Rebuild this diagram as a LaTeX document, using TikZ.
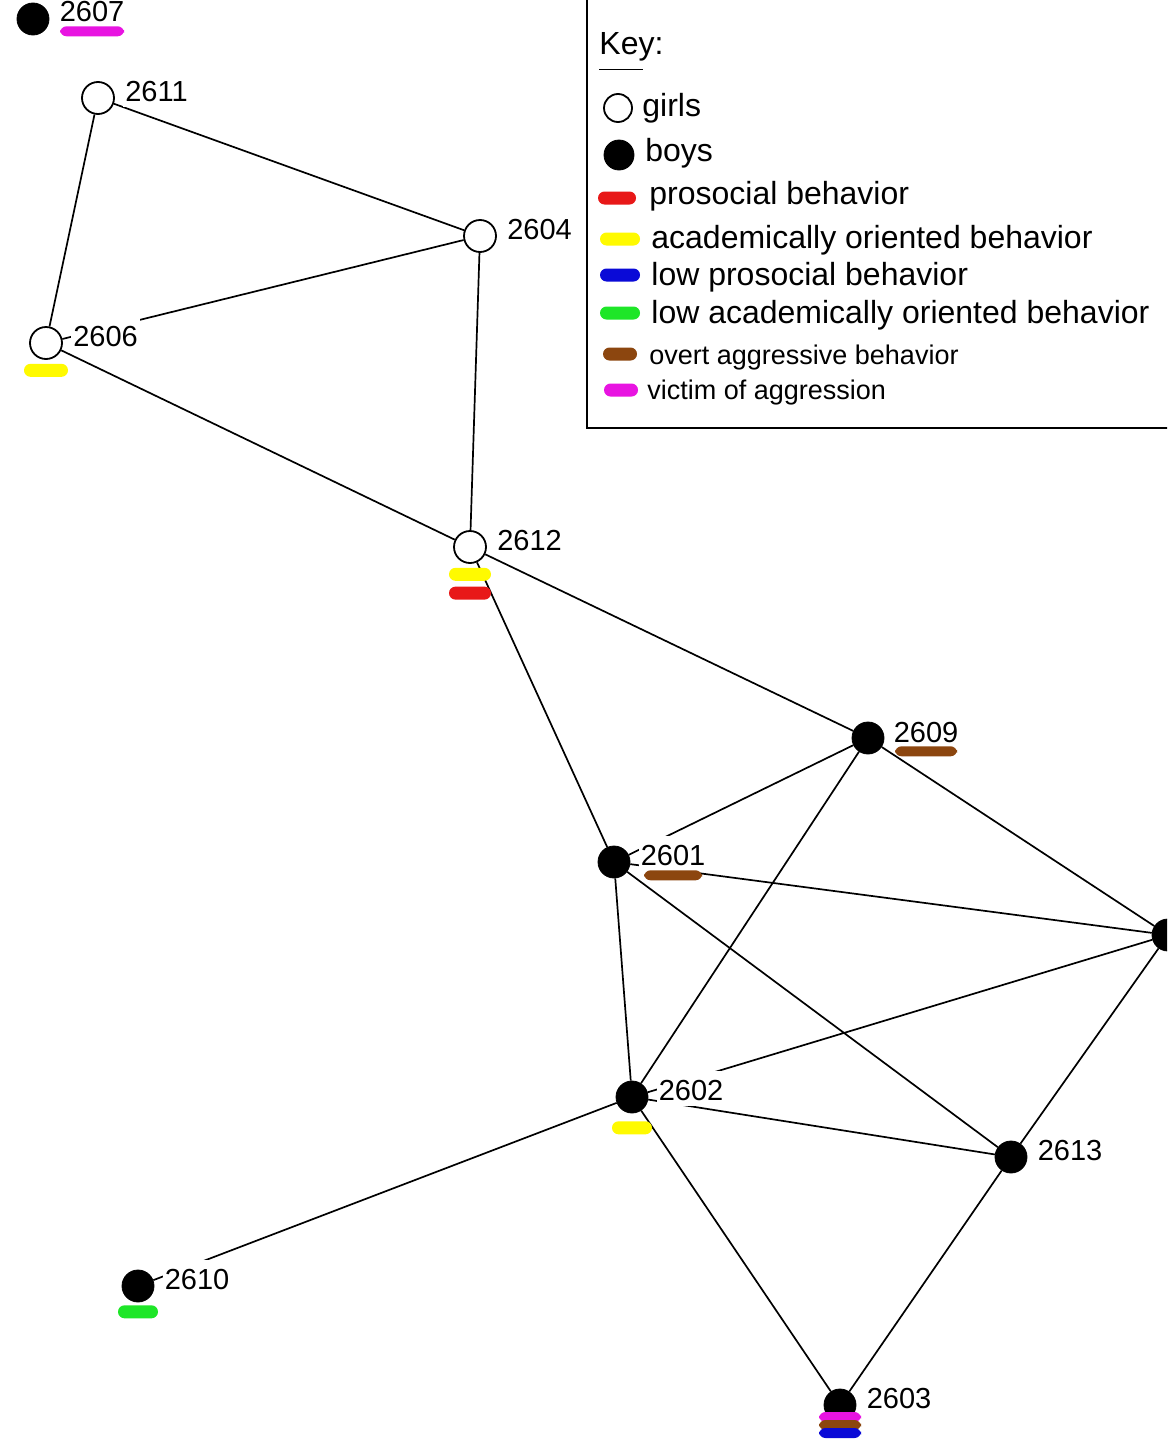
\documentclass[tikz,border=0pt]{standalone}
\usepackage{fontspec}
\setmainfont{Liberation Sans}
\usepackage{tikz}
\usetikzlibrary{positioning}
\definecolor{prored}{RGB}{232,24,24}
\definecolor{acayellow}{RGB}{255,250,0}
\definecolor{lowblue}{RGB}{10,10,215}
\definecolor{lowgreen}{RGB}{30,230,40}
\definecolor{overtbrown}{RGB}{140,70,15}
\definecolor{victimpink}{RGB}{232,20,225}

\begin{document}
\begin{tikzpicture}[x=0.5pt,y=-0.5pt]
% Default looks for each kind of thing
\tikzstyle{girl} = [draw, fill=white, shape=circle, line width=0.9pt, minimum size=16pt, inner sep=0pt]
\tikzstyle{boy} = [draw, fill=black, shape=circle, minimum size=16pt, inner sep=0pt]
\tikzstyle{edge} = [draw, line width=0.85pt, -]
\tikzstyle{tag} = [fill=white, font=\fontsize{14.5}{16}\selectfont, inner xsep=1pt, inner ysep=0pt, text height=15pt, text depth=2.5pt]
\tikzstyle{bar} = [shape=rectangle, rounded corners=3.25pt, minimum height=6.5pt, minimum width=21pt, inner sep=0pt]
\tikzstyle{keytext} = [font=\fontsize{16}{18}\selectfont, anchor=west, inner sep=0pt]
\tikzstyle{keysmall} = [font=\fontsize{13.5}{15}\selectfont, anchor=west, inner sep=0pt]
\clip (0,0) rectangle (1167,1440);
\fill [white] (0,0) rectangle (1167,1440);
% Define and draw the girls
\node [girl] (v2611) at (98,98) {};
\node [girl] (v2604) at (480,236) {};
\node [girl] (v2606) at (46,343) {};
\node [girl] (v2612) at (470,547) {};
% Define and draw the boys
\node [boy] (v2607) at (33,19) {};
\node [boy] (v2609) at (868,738) {};
\node [boy] (v2601) at (614,862) {};
\node [boy] (vright) at (1168,935) {};
\node [boy] (v2602) at (632,1097) {};
\node [boy] (v2613) at (1011,1157) {};
\node [boy] (v2610) at (138,1286) {};
\node [boy] (v2603) at (840,1405) {};
% Draw the ties
\draw [edge]
(v2611) -- (v2604) (v2611) -- (v2606) (v2606) -- (v2604)
(v2604) -- (v2612) (v2606) -- (v2612)
(v2612) -- (v2609) (v2612) -- (v2601)
(v2609) -- (v2601) (v2609) -- (v2602) (v2609) -- (vright)
(v2601) -- (vright) (v2601) -- (v2602) (v2601) -- (v2613)
(vright) -- (v2602) (vright) -- (v2613)
(v2602) -- (v2613) (v2602) -- (v2610)
(v2602) -- (v2603) (v2613) -- (v2603);
% Numbers, on top of the ties
\node [tag, right=4pt of v2607, yshift=5pt] (t2607) {2607};
\node [tag, right=4pt of v2611, yshift=4.5pt] (t2611) {2611};
\node [tag, right=4pt of v2604, yshift=4.5pt] (t2604) {2604};
\node [tag, right=4pt of v2606, yshift=4.5pt] (t2606) {2606};
\node [tag, right=4pt of v2612, yshift=4.5pt] (t2612) {2612};
\node [tag, right=3.5pt of v2609, yshift=4pt] (t2609) {2609};
\node [tag, right=4pt of v2601, yshift=4.5pt] (t2601) {2601};
\node [tag, right=4pt of v2602, yshift=4.5pt] (t2602) {2602};
\node [tag, right=4pt of v2613, yshift=4.5pt] (t2613) {2613};
\node [tag, right=4pt of v2610, yshift=4.5pt] (t2610) {2610};
\node [tag, right=4pt of v2603, yshift=4.5pt] (t2603) {2603};
% Behaviour marks
\node [bar, fill=victimpink, minimum width=32pt, minimum height=5pt, below=-0.5pt of t2607] (b2607) {};
\node [bar, fill=acayellow, minimum width=22pt, below=1.75pt of v2606] (b2606) {};
\node [bar, fill=acayellow, below=1.75pt of v2612] (b2612a) {};
\node [bar, fill=prored, below=2.5pt of b2612a] (b2612b) {};
\node [bar, fill=overtbrown, minimum width=31pt, minimum height=5pt, below=-1pt of t2609] (b2609) {};
\node [bar, fill=overtbrown, minimum width=29pt, minimum height=5pt, below=-0.5pt of t2601] (b2601) {};
\node [bar, fill=acayellow, minimum width=20pt, below=3.75pt of v2602] (b2602) {};
\node [bar, fill=lowgreen, minimum width=20pt, below=1.25pt of v2610] (b2610) {};
\node [bar, fill=victimpink, minimum height=5pt, at={([yshift=-6pt]v2603)}] (b2603a) {};
\node [bar, fill=overtbrown, minimum height=5pt, at={([yshift=-10pt]v2603)}] (b2603b) {};
\node [bar, fill=lowblue, minimum height=5pt, at={([yshift=-14pt]v2603)}] (b2603c) {};
% The key
\draw [line width=0.8pt] (587,-10) rectangle (1180,428);
\node [keytext] (key) at (599,47) {Key:};
\draw [line width=0.6pt] ([yshift=-4pt]key.south west) -- ++(22pt,0);
\node [girl, minimum size=14pt] (kgirl) at (618,108) {};
\node [keytext] (lgirl) at (642,108) {girls};
\node [boy, minimum size=15pt] (kboy) at (619,155) {};
\node [keytext] (lboy) at (645,153) {boys};
\node [bar, fill=prored, minimum width=19pt] (kred) at (617,198) {};
\node [keytext] (lred) at (649,196) {prosocial behavior};
\node [bar, fill=acayellow, minimum width=20pt] (kyellow) at (620,239) {};
\node [keytext] (lyellow) at (651,240) {academically oriented behavior};
\node [bar, fill=lowblue, minimum width=20pt] (kblue) at (620,275) {};
\node [keytext] (lblue) at (651,277) {low prosocial behavior};
\node [bar, fill=lowgreen, minimum width=20pt] (kgreen) at (620,313) {};
\node [keytext] (lgreen) at (651,315) {low academically oriented behavior};
\node [bar, fill=overtbrown, minimum width=17pt] (kbrown) at (620,354) {};
\node [keysmall] (lbrown) at (649,358) {overt aggressive behavior};
\node [bar, fill=victimpink, minimum width=17pt] (kpink) at (621,390) {};
\node [keysmall] (lpink) at (647,393) {victim of aggression};
\end{tikzpicture}
\end{document}
